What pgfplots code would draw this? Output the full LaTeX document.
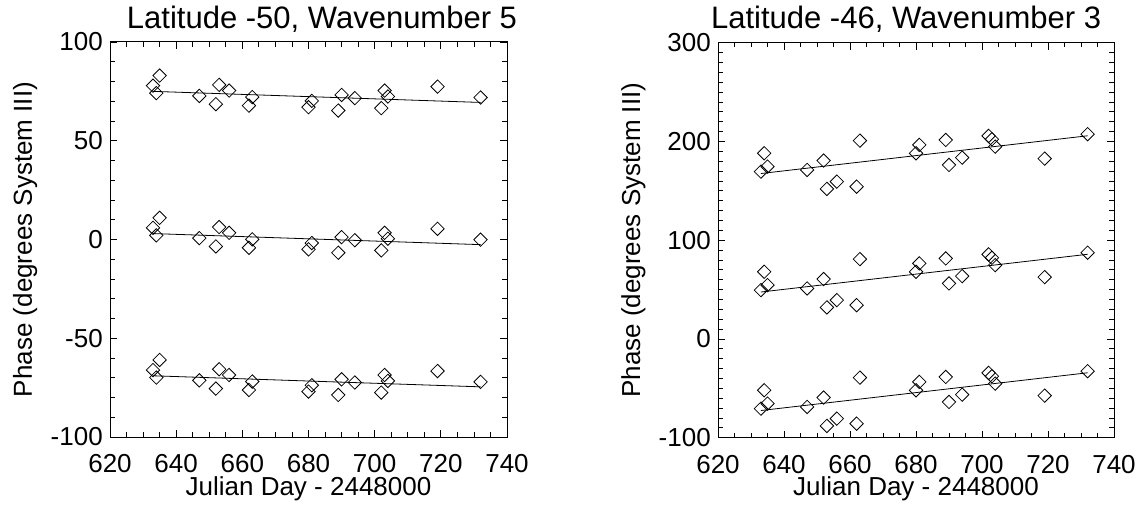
\documentclass[border=0pt]{standalone}
\usepackage{fontspec}
\setmainfont{Liberation Sans}
\usepackage{pgfplots}
\pgfplotsset{compat=1.18}
\begin{document}
\begin{tikzpicture}
\pgfplotsset{
  phase/.style={
    scale only axis,
    anchor=south west,
    xmin=620, xmax=740,
    xtick={620,640,...,740},
    minor x tick num=3,
    tick align=inside,
    xtick pos=both, ytick pos=both,
    major tick length=5.25pt,
    minor tick length=3.5pt,
    every tick/.style={black, line width=0.6pt},
    axis line style={black, line width=0.75pt},
    /pgf/number format/assume math mode=true,
    /pgf/number format/1000 sep={},
    tick label style={font=\fontsize{19.5}{20}\selectfont},
    xticklabel style={anchor=north, inner sep=0pt, yshift=-12.75pt},
    yticklabel style={anchor=east, inner sep=0pt, xshift=-5.25pt},
    label style={font=\fontsize{19.5}{20}\selectfont},
    xlabel={Julian Day - 2448000},
    ylabel={Phase (degrees System III)},
    xlabel style={at={(axis description cs:0.5,-0.1475)}, anchor=base, inner sep=0pt},
    ylabel style={at={(axis description cs:-0.1965,0.5)}, anchor=base, inner sep=0pt, rotate=0},
    every axis title shift=0pt,
    title style={font=\fontsize{23.25}{24}\selectfont, anchor=base, inner sep=0pt},
    clip=false,
  },
  dmark/.style={only marks, mark=square, mark size=3.55pt,
    mark options={rotate=45, solid, fill=none, draw=black, line width=0.6pt}},
  fitline/.style={black, line width=0.6pt, no marks},
}
\path[use as bounding box] (0,0) rectangle (855.75pt,380.25pt);
% ---------------- left panel ----------------
\begin{axis}[phase,
  at={(82.5pt,52.5pt)}, width=297.75pt, height=296.25pt,
  ymin=-100, ymax=100, ytick={-100,-50,...,100}, minor y tick num=4,
  title={Latitude -50, Wavenumber 5},
  title style={at={(axis description cs:0.534,1.0347)}},
]
\addplot[dmark] coordinates {
(633,77.9) (634,74.1) (635,83.0) (647,72.7) (652,68.5) (653,78.3) (656,75.4)
(662,67.8) (663,72.1) (680,67.0) (681,70.2) (689,65.3) (690,73.2) (694,71.6)
(702,66.5) (703,75.4) (704,72.4) (719,77.4) (732,71.9)};
\addplot[dmark] coordinates {
(633,5.9) (634,2.1) (635,11.0) (647,0.7) (652,-3.5) (653,6.3) (656,3.4)
(662,-4.2) (663,0.1) (680,-5.0) (681,-1.8) (689,-6.7) (690,1.2) (694,-0.4)
(702,-5.5) (703,3.4) (704,0.4) (719,5.4) (732,-0.1)};
\addplot[dmark] coordinates {
(633,-66.1) (634,-69.9) (635,-61.0) (647,-71.3) (652,-75.5) (653,-65.7) (656,-68.6)
(662,-76.2) (663,-71.9) (680,-77.0) (681,-73.8) (689,-78.7) (690,-70.8) (694,-72.4)
(702,-77.5) (703,-68.6) (704,-71.6) (719,-66.6) (732,-72.1)};
\addplot[fitline] coordinates {(633,75.0) (732,69.4)};
\addplot[fitline] coordinates {(633,3.0) (732,-2.6)};
\addplot[fitline] coordinates {(633,-69.0) (732,-74.6)};
\end{axis}
% ---------------- right panel ----------------
\begin{axis}[phase,
  at={(538.5pt,52pt)}, width=297pt, height=296.25pt,
  ymin=-100, ymax=300, ytick={-100,0,...,300}, minor y tick num=9,
  title={Latitude -46, Wavenumber 3},
  title style={at={(axis description cs:0.475,1.0347)}},
]
\addplot[dmark] coordinates {
(633,169.4) (634,188.0) (635,174.5) (647,171.1) (652,180.6) (653,151.9) (656,159.3)
(662,154.2) (663,200.8) (680,188.0) (681,196.5) (689,201.5) (690,176.2) (694,183.6)
(702,205.6) (703,202.2) (704,194.7) (719,182.6) (732,207.3)};
\addplot[dmark] coordinates {
(633,49.4) (634,68.0) (635,54.5) (647,51.1) (652,60.6) (653,31.9) (656,39.3)
(662,34.2) (663,80.8) (680,68.0) (681,76.5) (689,81.5) (690,56.2) (694,63.6)
(702,85.6) (703,82.2) (704,74.7) (719,62.6) (732,87.3)};
\addplot[dmark] coordinates {
(633,-70.6) (634,-52.0) (635,-65.5) (647,-68.9) (652,-59.4) (653,-88.1) (656,-80.7)
(662,-85.8) (663,-39.2) (680,-52.0) (681,-43.5) (689,-38.5) (690,-63.8) (694,-56.4)
(702,-34.4) (703,-37.8) (704,-45.3) (719,-57.4) (732,-32.7)};
\addplot[fitline] coordinates {(633,167.5) (732,205.7)};
\addplot[fitline] coordinates {(633,47.5) (732,85.7)};
\addplot[fitline] coordinates {(633,-72.5) (732,-34.3)};
\end{axis}
\end{tikzpicture}
\end{document}
